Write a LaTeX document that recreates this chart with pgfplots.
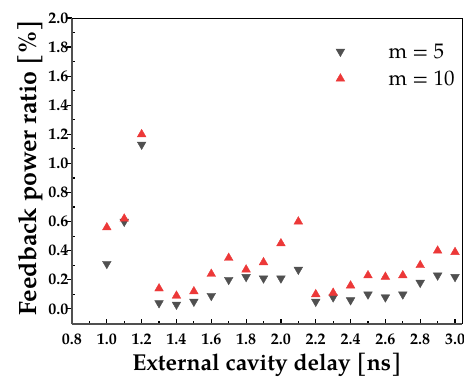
\documentclass[border=0pt]{standalone}
\usepackage{fontspec}
\setmainfont{TeX Gyre Pagella}
\usepackage{pgfplots}
\pgfplotsset{compat=1.18}
\definecolor{mgray}{RGB}{80,80,80}
\definecolor{mred}{RGB}{236,56,56}
\begin{document}
\begin{tikzpicture}
\begin{axis}[
  name=ax,
  scale only axis,
  width=390pt, height=306pt,
  xmin=0.8, xmax=3.04, ymin=-0.104, ymax=2.0,
  xtick={0.8,1.0,...,3.0},
  ytick={0,0.2,...,2.0},
  minor x tick num=1, minor y tick num=1,
  axis x line*=bottom, axis y line*=left,
  axis line style={line width=1.6pt, draw=mgray},
  x tick label style={yshift=-6pt, font=\fontsize{16}{18}\selectfont\bfseries, /pgf/number format/fixed, /pgf/number format/fixed zerofill, /pgf/number format/precision=1},
  y tick label style={font=\fontsize{16}{18}\selectfont\bfseries, /pgf/number format/fixed, /pgf/number format/fixed zerofill, /pgf/number format/precision=1},
  /pgf/number format/assume math mode=true,
  tick style={line width=1.2pt, black},
  major tick length=5pt, minor tick length=3pt,
  xtick align=inside,
  ytick align=inside,
  major y tick style={xshift=-5pt},
  xlabel={\fontsize{23}{25}\selectfont\bfseries External cavity delay [ns]},
  ylabel={\fontsize{25}{27}\selectfont\bfseries Feedback power ratio [\%]},
  xlabel style={yshift=-2pt},
  every axis y label/.append style={at={(ticklabel cs:0.51)}},
  ylabel style={yshift=-1pt},
  legend style={draw=none, fill=none, at={(0.643,0.93)}, anchor=north west,
     font=\fontsize{21}{23}\selectfont, row sep=7pt},
  legend image code/.code={\draw plot coordinates {(0.5cm,0cm)}; \path (0cm,0cm) (2.12cm,0cm);},
  legend cell align=left,
  clip=false,
]
\addplot[only marks, mark=triangle*, mark size=5pt, mark options={rotate=180, fill=mgray, draw=mgray}, color=mgray] coordinates {
(1.0,0.31) (1.1,0.60) (1.2,1.13) (1.3,0.04) (1.4,0.03) (1.5,0.05) (1.6,0.09)
(1.7,0.20) (1.8,0.22) (1.9,0.21) (2.0,0.21) (2.1,0.27) (2.2,0.05) (2.3,0.08)
(2.4,0.06) (2.5,0.10) (2.6,0.08) (2.7,0.10) (2.8,0.18) (2.9,0.23) (3.0,0.22)
};
\addlegendentry{m = 5}
\addplot[only marks, mark=triangle*, mark size=5pt, mark options={fill=mred, draw=mred}, color=mred] coordinates {
(1.0,0.56) (1.1,0.62) (1.2,1.20) (1.3,0.14) (1.4,0.09) (1.5,0.12) (1.6,0.24)
(1.7,0.35) (1.8,0.27) (1.9,0.32) (2.0,0.45) (2.1,0.60) (2.2,0.10) (2.3,0.11)
(2.4,0.16) (2.5,0.23) (2.6,0.22) (2.7,0.23) (2.8,0.30) (2.9,0.40) (3.0,0.39)
};
\addlegendentry{m = 10}
\draw[line width=1pt, black] (rel axis cs:0,1) -- (rel axis cs:1,1) -- (rel axis cs:1,0);
\end{axis}
\pgfresetboundingbox
\path ([xshift=-72pt,yshift=-52pt]ax.south west) rectangle ([xshift=2pt,yshift=18pt]ax.north east);
\end{tikzpicture}
\end{document}
